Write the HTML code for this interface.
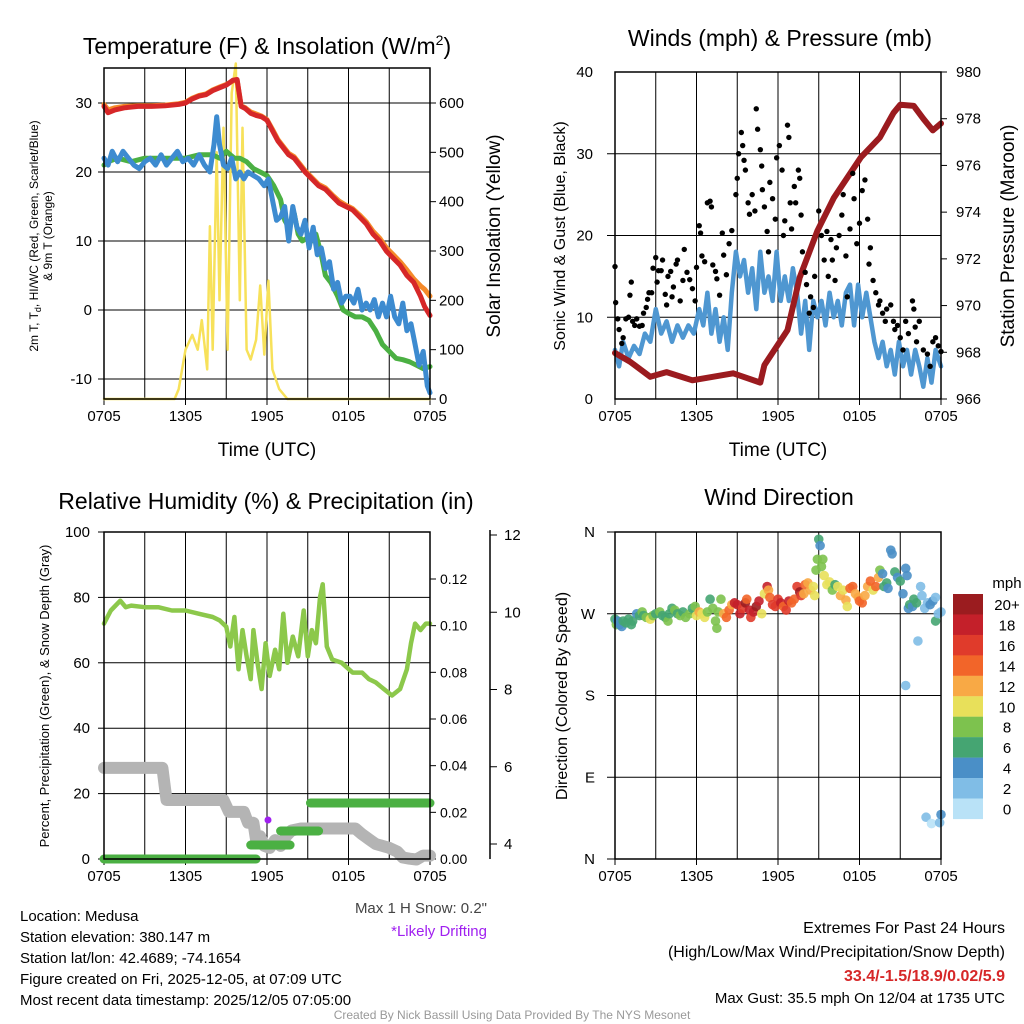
<!DOCTYPE html>
<html><head><meta charset="utf-8"><style>
html,body{margin:0;padding:0;background:#fff;}
svg{display:block;font-family:"Liberation Sans",sans-serif;}
</style></head><body>
<svg id="chart" width="1024" height="1024" viewBox="0 0 1024 1024">
<g id="g1"></g>
<g id="g2"></g>
<g id="g3"></g>
<g id="g4"></g>
<g id="txt">
<text x="267" y="54" font-size="23" text-anchor="middle">Temperature (F) &amp; Insolation (W/m<tspan font-size="14" dy="-9">2</tspan><tspan dy="9">)</tspan></text>
<text x="780" y="46" font-size="23" text-anchor="middle">Winds (mph) &amp; Pressure (mb)</text>
<text x="266" y="509" font-size="23" text-anchor="middle">Relative Humidity (%) &amp; Precipitation (in)</text>
<text x="779" y="505" font-size="23" text-anchor="middle">Wind Direction</text>
<text x="20" y="921" font-size="15">Location: Medusa</text>
<text x="20" y="942" font-size="15">Station elevation: 380.147 m</text>
<text x="20" y="963" font-size="15">Station lat/lon: 42.4689; -74.1654</text>
<text x="20" y="984" font-size="15">Figure created on Fri, 2025-12-05, at 07:09 UTC</text>
<text x="20" y="1005" font-size="15">Most recent data timestamp: 2025/12/05 07:05:00</text>
<text x="487" y="913" font-size="15" text-anchor="end" fill="#444">Max 1 H Snow: 0.2"</text>
<text x="487" y="936" font-size="15" text-anchor="end" fill="#a020f0">*Likely Drifting</text>
<text x="1005" y="933" font-size="16" text-anchor="end">Extremes For Past 24 Hours</text>
<text x="1005" y="957" font-size="16" text-anchor="end">(High/Low/Max Wind/Precipitation/Snow Depth)</text>
<text x="1005" y="981" font-size="16" font-weight="bold" text-anchor="end" fill="#d62728">33.4/-1.5/18.9/0.02/5.9</text>
<text x="1005" y="1003" font-size="15" text-anchor="end">Max Gust: 35.5 mph On 12/04 at 1735 UTC</text>
<text x="512" y="1019" font-size="12" text-anchor="middle" fill="#999">Created By Nick Bassill Using Data Provided By The NYS Mesonet</text>
</g>
</svg>
<script>
const NS="http://www.w3.org/2000/svg";
const xLabels=["0705","1305","1905","0105","0705"];
// Panel 1
const t1Hours=[0,0.3,0.8,1.5,2.5,3.5,4.5,5.5,6,6.5,7,7.5,8,8.5,9,9.5,9.8,10.1,10.4,10.8,11.2,11.6,12,12.4,12.8,13.2,13.6,14,14.4,14.8,15.3,15.8,16.3,16.8,17.3,17.8,18.3,18.8,19.3,19.8,20.3,20.8,21.3,21.8,22.3,22.8,23.3,23.6,24];
const tempRed=[29.5,28.6,29,29.3,29.5,29.5,29.6,29.8,30,30.6,31,31.2,31.8,32.2,32.6,33.3,33.4,29.5,29.2,28.5,28.2,28,27.5,26,24.5,23.5,22.5,22,21,20,19,18,17.5,16.5,15.5,15,14.5,13.5,12.5,11,10,8.5,7.5,6.5,5,4,2,0.5,-0.8];
const temp9m=[29.8,29,29.3,29.5,29.6,29.6,29.7,29.9,30.1,30.7,31.1,31.3,31.9,32.3,32.7,33.2,33.3,29.6,29.3,28.7,28.4,28.1,27.6,26.2,24.7,23.7,22.7,22.2,21.2,20.2,19.2,18.2,17.7,16.7,15.8,15.2,14.7,13.8,12.8,11.4,10.4,9,8,7,5.8,4.5,3.5,3,2];
const tdHours=[0,0.3,1,2,3,4,5,6,7,8,8.5,9,9.3,9.6,10,10.5,11,11.5,12,12.5,13,13.3,13.6,14,14.3,14.6,15,15.3,15.6,16,16.3,16.7,17.2,17.6,18,18.5,19,19.5,20,20.5,21,21.5,22,22.5,23,23.5,24];
const dewpoint=[21,21.5,22,21.5,22,22,22,22,22.5,22.5,22,23,22.5,22,22,21.5,20.5,20,19.5,18,16,13,12,14,11,10,10.5,10,11,8,5,4,2,0,-0.5,-1,-1,-1.5,-3,-5,-6,-7,-7.2,-7.5,-8,-8.5,-8.2];
const wcHours=[0,0.3,0.6,1,1.4,1.8,2.2,2.6,3,3.4,3.8,4.2,4.6,5,5.4,5.8,6.2,6.6,7,7.4,7.8,8.1,8.3,8.5,8.8,9.1,9.4,9.7,10,10.3,10.6,11,11.4,11.8,12.1,12.4,12.7,13,13.3,13.6,13.9,14.2,14.5,14.8,15.1,15.4,15.7,16,16.3,16.6,16.9,17.2,17.5,17.8,18.1,18.4,18.7,19,19.3,19.6,19.9,20.2,20.5,20.8,21.1,21.4,21.7,22,22.3,22.6,22.9,23.2,23.5,23.8,24];
const windChill=[22,21,23,21.5,23,22,21,20.5,21.5,22,21,22.5,21,22,23,21.5,22,21,22.5,21,20,24,28,24,21,20.5,22,19,20,19,20,19.5,19,18,19,16,13,13.5,15,10,15,12,11,13,9,12,8,9,6,7,3,4,1,2,2,1,3,0,1,0,1.5,-1,1,-1,2,-1,-2,1,-3,-2,-5,-8,-6,-11,-12];
const solarHours=[0,5.2,5.5,6,6.5,6.9,7.2,7.6,7.8,8,8.3,8.5,8.8,9.1,9.4,9.7,10,10.2,10.5,10.8,11.2,11.5,11.8,12.1,12.4,12.9,13.5,24];
const solar=[0,0,20,100,130,100,160,60,350,100,500,200,550,100,620,680,200,550,100,80,120,230,90,240,60,20,0,0];
const p1LeftTicks=[30,20,10,0,-10];
const p1RightTicks=[0,100,200,300,400,500,600];
// Panel 2
const windHours=[0,0.3,0.6,1,1.4,1.8,2.2,2.6,3,3.4,3.8,4.2,4.6,5,5.4,5.8,6.2,6.5,6.8,7.1,7.4,7.7,8,8.3,8.6,8.9,9.2,9.5,9.8,10.1,10.4,10.7,11,11.3,11.6,11.9,12.2,12.5,12.8,13.1,13.4,13.7,14,14.3,14.6,14.9,15.2,15.5,15.8,16.1,16.4,16.7,17,17.3,17.6,17.9,18.2,18.5,18.8,19.1,19.4,19.7,20,20.3,20.6,20.9,21.2,21.5,21.8,22.1,22.4,22.7,23,23.3,23.6,24];
const windSpeed=[6,4,7,5,6.5,5.5,8,7,11,8,9.5,7,9,7.5,9,8,11,9,13,8,11,7,10,6,13,18,15,17,13,16,11,18,13,15,12,18,12,15,12,16,13,8,12,6,12,10,12,9,13,10,12,9,13,14,9,14,10,13,10,7,5,7,4,6,3,7,4,6,3,6,4,1.5,5,2,6,4];
const gustHours=[0,0.05,0.2,0.3,0.5,0.6,0.8,1.0,1.1,1.2,1.3,1.45,1.6,1.8,2.0,2.1,2.3,2.4,2.5,2.7,2.8,3.0,3.1,3.2,3.4,3.5,3.7,3.8,3.9,4.1,4.2,4.3,4.5,4.6,4.8,5.0,5.1,5.3,5.5,5.7,5.9,6.0,6.2,6.3,6.4,6.6,6.8,7.0,7.1,7.2,7.4,7.5,7.7,7.9,8.0,8.2,8.4,8.6,8.9,9.0,9.1,9.3,9.4,9.5,9.6,9.8,9.9,10.1,10.3,10.4,10.5,10.7,10.8,10.85,11.0,11.2,11.3,11.4,11.6,11.8,11.9,12.1,12.3,12.4,12.5,12.7,12.8,12.9,13.0,13.2,13.3,13.5,13.6,13.7,13.8,14.0,14.1,14.3,14.4,14.6,14.7,15.0,15.2,15.4,15.6,15.7,15.9,16.0,16.2,16.3,16.5,16.7,16.8,17.0,17.1,17.3,17.5,17.6,17.8,18.0,18.2,18.4,18.6,18.7,18.8,19.0,19.2,19.4,19.5,19.7,19.9,20.0,20.3,20.5,20.6,20.8,21.0,21.2,21.4,21.6,21.9,22.0,22.1,22.2,22.4,22.7,23.0,23.2,23.4,23.6,23.8,24.0];
const gusts=[16.2,11.8,9.8,8.5,6.8,7.5,9.8,10.0,12.7,14.3,9.5,9.0,9.8,8.9,9.0,10.5,11.2,12.2,13.0,13.0,16.0,17.3,14.3,15.7,15.7,17.0,12.8,11.5,15.0,15.6,12.5,13.7,16.5,17.0,12.0,14.5,18.3,15.5,14.6,13.5,12.0,16.1,21.2,20.3,17.5,16.8,24.0,24.2,23.5,16.4,15.6,14.7,12.7,20.3,17.6,15.2,19.0,20.6,25.0,27.0,30.0,32.6,31.0,29.2,28.0,24.0,22.6,25.0,23.0,35.5,33.0,30.5,28.5,25.6,23.5,20.5,18.0,26.5,24.5,22.0,29.5,31.0,28.0,20.0,21.8,33.5,32.0,24.0,20.8,26.0,24.0,28.0,27.0,22.5,18.0,15.5,14.0,10.5,12.5,11.2,15.0,23.0,20.0,17.0,20.5,15.0,19.5,17.0,14.5,18.5,20.0,22.5,25.0,17.5,12.5,20.8,27.6,24.5,19.0,21.5,25.5,26.8,22.0,16.5,18.5,14.5,13.0,11.5,12.0,10.5,9.5,11.0,11.5,9.5,8.5,9.0,7.5,6.0,9.5,8.0,12.0,11.0,8.8,7.0,9.5,6.0,5.5,4.0,7.0,7.5,6.5,5.8];
const presHours=[0,1.1,2.6,3.8,5.7,8.7,10.7,11,12.7,13.6,14.9,16.1,18.1,19.5,20.5,21,22,22.7,23.4,24];
const pressure=[967.97,967.6,966.95,967.15,966.8,967.1,966.7,967.45,968.95,971.2,973.2,974.6,976.35,977.2,978.25,978.6,978.55,978.0,977.5,977.8];
const p2LeftTicks=[0,10,20,30,40];
const p2RightTicks=[966,968,970,972,974,976,978,980];
// Panel 3
const rhHours=[0,0.5,1.2,1.6,2,3,4,5,6,7,8,8.5,9,9.3,9.6,9.9,10.2,10.5,10.8,11,11.3,11.6,11.9,12.2,12.6,12.9,13.2,13.5,13.9,14.3,14.7,15,15.3,15.6,15.9,16.1,16.4,16.8,17.5,18.3,19,19.5,20,20.6,21.2,21.8,22.3,22.6,22.9,23.3,23.7,24];
const rh=[72,76,79,77,77.5,77,77,76,76,75,74,73,71,65,74,58,70,62,55,70,60,52,66,56,64,58,75,60,68,62,76,62,70,66,80,84,65,61,60,57,57,55,54,52,50,52,58,66,72,70,72,72];
const snowHours=[0,4.3,4.6,8.8,9.2,10.3,10.6,11,11.2,11.5,11.8,12.2,12.6,13,13.4,13.8,14.5,18.5,19,19.6,20,21,21.6,22,22.5,23,23.5,24];
const snowDepth=[5.97,5.97,5.14,5.14,4.83,4.83,4.55,4.55,4.1,4.2,3.95,3.9,4.1,3.95,4.2,4.35,4.4,4.4,4.25,4.1,4.0,3.9,3.8,3.65,3.62,3.6,3.7,3.7];
const precipStart=[0,10.8,13.0,15.2];
const precipEnd=[11.2,13.7,15.8,24];
const precipValue=[0,0.006,0.012,0.024];
const rhTicks=[0,20,40,60,80,100];
const precipTicks=[0,0.02,0.04,0.06,0.08,0.10,0.12];
const precipTickLabels=["0.00","0.02","0.04","0.06","0.08","0.10","0.12"];
const snowTicks=[4,6,8,10,12];
// Panel 4
const dirHours=[0,0.1,0.2,0.35,0.5,0.6,0.8,1.0,1.2,1.3,1.6,1.8,2.0,2.1,2.3,2.6,2.8,3.0,3.3,3.5,3.7,3.9,4.0,4.2,4.4,4.6,4.8,5.0,5.2,5.5,5.7,5.9,6.0,6.2,6.4,6.6,6.8,7.0,7.2,7.4,7.5,7.6,7.8,8.0,8.2,8.4,8.6,8.8,9.0,9.2,9.4,9.6,9.7,9.9,10.0,10.2,10.4,10.6,10.8,11.0,11.2,11.3,11.4,11.6,11.8,12.0,12.2,12.4,12.6,12.8,13.0,13.2,13.4,13.6,13.7,13.9,14.0,14.2,14.4,14.6,14.7,14.8,14.9,15.0,15.1,15.2,15.3,15.4,15.6,15.8,16.0,16.2,16.4,16.6,16.8,17.0,17.1,17.3,17.5,17.7,17.9,18.0,18.2,18.4,18.6,18.8,19.0,19.2,19.4,19.5,19.7,19.8,20.0,20.1,20.3,20.4,20.6,20.8,21.0,21.2,21.4,21.4,21.5,21.6,21.7,21.9,22.0,22.2,22.3,22.5,22.6,22.8,22.9,23.0,23.2,23.3,23.4,23.6,23.6,23.8,23.9,24,24];
const dirDeg=[264,258,262,258,256,262,260,264,258,262,270,268,272,268,266,264,268,270,272,268,266,262,270,276,274,270,268,272,266,270,276,278,268,272,270,266,272,286,276,262,254,272,286,270,266,274,280,282,280,270,276,282,286,274,266,272,278,284,270,292,300,296,288,280,278,286,282,278,274,284,282,286,300,294,290,292,302,304,296,300,290,318,330,352,345,322,330,312,302,305,296,302,300,290,296,285,278,298,300,292,288,284,282,290,300,306,296,300,310,318,314,300,304,298,340,336,316,310,306,292,320,191,312,276,280,278,286,282,240,300,290,276,46,282,280,39,284,288,262,270,40,272,49];
const dirSpeed=[6,8,4,4,4,6,6,6,6,6,4,6,8,6,8,10,8,6,8,6,6,8,6,6,8,6,8,6,8,8,6,8,10,12,10,10,8,6,8,8,8,8,8,12,14,14,12,18,18,18,16,20,14,18,16,18,20,18,10,10,18,12,14,16,16,16,18,14,16,18,14,14,16,20,16,12,14,12,12,10,10,8,8,6,4,8,8,10,10,10,8,6,10,12,10,12,10,14,14,12,12,14,14,12,12,14,10,14,12,8,4,6,6,4,4,4,6,4,6,4,4,2,4,4,6,4,6,6,2,2,2,2,2,2,4,0,4,2,6,2,2,2,4];
const cbLabels=["20+","18","16","14","12","10","8","6","4","2","0"];
const cbColors=["#9b1c1f","#c4202a","#e03b2b","#f26529","#f8a945","#e8e05a","#7dc24e","#45a572","#4a8fc7","#80bde6","#b9e2f7"];
const dirTickLabels=["N","W","S","E","N"];
const dirTicks=[360,270,180,90,0];

function el(parent,tag,attrs){const e=document.createElementNS(NS,tag);for(const k in attrs)e.setAttribute(k,attrs[k]);parent.appendChild(e);return e;}
function txt(parent,x,y,s,size,anchor,extra){const t=el(parent,'text',Object.assign({x:x,y:y,'font-size':size,'text-anchor':anchor||'start'},extra||{}));t.textContent=s;return t;}
function lin(d0,d1,r0,r1){return v=>r0+(v-d0)/(d1-d0)*(r1-r0);}
function poly(parent,xs,ys,sx,sy,color,w){let d='';for(let i=0;i<xs.length;i++)d+=(i?'L':'M')+sx(xs[i]).toFixed(1)+','+sy(ys[i]).toFixed(1);return el(parent,'path',{d:d,fill:'none',stroke:color,'stroke-width':w,'stroke-linejoin':'round','stroke-linecap':'round'});}
function speedColor(s){if(s>=20)return cbColors[0];const i=10-Math.floor(s/2);return cbColors[Math.max(0,Math.min(10,i))];}

function frame(g,L,T,R,B,vStep,name){
  const sx=lin(0,24,L,R);
  for(let h=vStep;h<24;h+=vStep){const l=el(g,'line',{x1:sx(h),y1:T,x2:sx(h),y2:B,stroke:'#000','stroke-width':1});
    
    }
  for(let i=0;i<5;i++){const t=txt(g,sx(i*6),B+22,xLabels[i],15,'middle');
    
    
    el(g,'line',{x1:sx(i*6),y1:B,x2:sx(i*6),y2:B+6,stroke:'#000'});}
  return sx;
}
function border(g,L,T,R,B){const r=el(g,'rect',{x:L,y:T,width:R-L,height:B-T,fill:'none',stroke:'#000','stroke-width':1.5});
  
  }

// ===== Panel 1 =====
(function(){
  const g=document.getElementById('g1');const L=104,T=68,R=430,B=399;
  const sx=frame(g,L,T,R,B,3);
  const sy=lin(0,10,310,241);const sr=lin(0,600,399,103);
  p1LeftTicks.forEach(v=>{el(g,'line',{x1:L-6,y1:sy(v),x2:R,y2:sy(v),stroke:'#000'});
    const t=txt(g,L-12,sy(v)+5,String(v),15,'end');});
  p1RightTicks.forEach(v=>{el(g,'line',{x1:R,y1:sr(v),x2:R+6,y2:sr(v),stroke:'#000'});
    const t=txt(g,R+9,sr(v)+5,String(v),15,'start');});
  const y1=poly(g,solarHours,solar,sx,sr,'#f7e15a',2.5);
  const o=poly(g,t1Hours,temp9m,sx,sy,'#f58a2a',5);
  const r=poly(g,t1Hours,tempRed,sx,sy,'#d62728',5);
  const gr=poly(g,tdHours,dewpoint,sx,sy,'#4bb043',5);
  const b=poly(g,wcHours,windChill,sx,sy,'#3d8bd0',5);
  border(g,L,T,R,B);
  const xt=txt(g,267,456,'Time (UTC)',19,'middle');
  const rt=txt(g,0,0,'Solar Insolation (Yellow)',19,'middle',{transform:'translate(500,236) rotate(-90)'});
  const lt=el(g,'text',{'font-size':12,'text-anchor':'middle',transform:'translate(38,236) rotate(-90)'});
  
  lt.innerHTML='<tspan x="0" y="0">2m T, T<tspan font-size="9" dy="3">d</tspan><tspan dy="-3">, HI/WC (Red, Green, Scarlet/Blue)</tspan></tspan><tspan x="0" y="14">&amp; 9m T (Orange)</tspan>';
})();

// ===== Panel 2 =====
(function(){
  const g=document.getElementById('g2');const L=615,T=72,R=941,B=399;
  const sx=frame(g,L,T,R,B,3);
  const sy=lin(0,40,399,72);const sp=lin(966,980,399,72);
  p2LeftTicks.forEach(v=>{if(v>0&&v<40)el(g,'line',{x1:L-8,y1:sy(v),x2:R,y2:sy(v),stroke:'#000'});
    const t=txt(g,L-22,sy(v)+5,String(v),15,'end');});
  p2RightTicks.forEach(v=>{el(g,'line',{x1:R,y1:sp(v),x2:R+6,y2:sp(v),stroke:'#000'});
    const t=txt(g,R+15,sp(v)+5,String(v),15,'start');});
  const w=poly(g,windHours,windSpeed,sx,sy,'#4f97d1',4.5);
  const p=poly(g,presHours,pressure,sx,sp,'#9b1b1f',6);
  for(let i=0;i<gusts.length;i++){const c=el(g,'circle',{cx:sx(gustHours[i]),cy:sy(gusts[i]),r:2.7,fill:'#000'});
    
    }
  border(g,L,T,R,B);
  const xt=txt(g,778,456,'Time (UTC)',19,'middle');
  const lt=txt(g,0,0,'Sonic Wind & Gust (Blue, Black)',16,'middle',{transform:'translate(565,236) rotate(-90)'});
  const rt=txt(g,0,0,'Station Pressure (Maroon)',19,'middle',{transform:'translate(1014,236) rotate(-90)'});
})();

// ===== Panel 3 =====
(function(){
  const g=document.getElementById('g3');const L=104,T=532,R=430,B=859;
  const sx=frame(g,L,T,R,B,3);
  const sy=lin(0,100,859,532);const spr=lin(0,0.12,859,579);const ss=lin(4,12,844,535);
  rhTicks.forEach(v=>{const t=txt(g,L-14,sy(v)+5,String(v),15,'end');
    el(g,'line',{x1:L-6,y1:sy(v),x2:L,y2:sy(v),stroke:'#000'});
    if(v>0&&v<100)el(g,'line',{x1:L,y1:sy(v),x2:R,y2:sy(v),stroke:'#000'});});
  precipTicks.forEach((v,i)=>{el(g,'line',{x1:R,y1:spr(v),x2:R+6,y2:spr(v),stroke:'#000'});
    const t=txt(g,R+10,spr(v)+5,precipTickLabels[i],14,'start');});
  el(g,'line',{x1:490,y1:530,x2:490,y2:859,stroke:'#000','stroke-width':1.5});
  snowTicks.forEach(v=>{el(g,'line',{x1:490,y1:ss(v),x2:497,y2:ss(v),stroke:'#000'});
    const t=txt(g,504,ss(v)+5,String(v),15,'start');});
  const s=poly(g,snowHours,snowDepth,sx,ss,'#b4b4b4',12);
  for(let i=0;i<precipValue.length;i++){const l=el(g,'line',{x1:sx(precipStart[i]),y1:spr(precipValue[i]),x2:sx(precipEnd[i]),y2:spr(precipValue[i]),stroke:'#4bb043','stroke-width':9,'stroke-linecap':'round'});
    
    }
  const r=poly(g,rhHours,rh,sx,sy,'#8cc84b',4.5);
  const d=el(g,'circle',{cx:268,cy:820,r:3.5,fill:'#a020f0'});
  border(g,L,T,R,B);
  const lt=txt(g,0,0,'Percent, Precipitation (Green), & Snow Depth (Gray)',13,'middle',{transform:'translate(49,696) rotate(-90)'});
})();

// ===== Panel 4 =====
(function(){
  const g=document.getElementById('g4');const L=615,T=532,R=941,B=859;
  const sx=frame(g,L,T,R,B,3);
  const sy=lin(0,360,859,532);
  dirTicks.forEach((v,i)=>{el(g,'line',{x1:L-8,y1:sy(v),x2:R,y2:sy(v),stroke:'#000'});
    const t=txt(g,L-20,sy(v)+5,dirTickLabels[i],15,'end');});
  for(let i=0;i<dirDeg.length;i++){const c=el(g,'circle',{cx:sx(dirHours[i]),cy:sy(dirDeg[i]),r:4.8,fill:speedColor(dirSpeed[i]),'fill-opacity':0.9});
    
    }
  border(g,L,T,R,B);
  const lt=txt(g,0,0,'Direction (Colored By Speed)',16,'middle',{transform:'translate(567,696) rotate(-90)'});
  const mt=txt(g,1007,588,'mph',15,'middle');
  for(let i=0;i<cbColors.length;i++){const y=594+i*20.45;
    const b=el(g,'rect',{x:953,y:y,width:30,height:20.6,fill:cbColors[i]});
    
    
    const t=txt(g,1007,y+16,cbLabels[i],15,'middle');
    
    }
})();
</script>
</body></html>
